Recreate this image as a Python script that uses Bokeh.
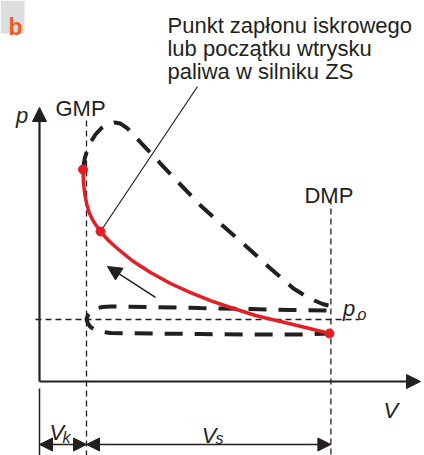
from bokeh.plotting import figure
from bokeh.models import Range1d, Arrow, NormalHead, Label, BoxAnnotation
from bokeh.embed import file_html
from bokeh.resources import INLINE

# Indicator diagram of a piston engine, schematic units
V_k = 1.0      # clearance volume (GMP)
V_s = 5.2      # swept volume (GMP -> DMP)
p_o = 1.0      # ambient pressure

# compression stroke (red)
comp_V = [0.926, 0.936, 0.968, 1.011, 1.064, 1.149, 1.298, 1.468, 1.681, 2.000,
          2.362, 2.787, 3.213, 3.638, 4.064, 4.596, 5.128, 5.660, 6.170]
comp_p = [3.419, 3.194, 3.000, 2.839, 2.710, 2.581, 2.419, 2.274, 2.129, 1.935,
          1.758, 1.581, 1.435, 1.306, 1.194, 1.065, 0.968, 0.871, 0.774]

# combustion and expansion stroke
exp_V = [0.926, 0.957, 1.011, 1.085, 1.191, 1.319, 1.468, 1.596, 1.723, 1.872,
         2.043, 2.255, 2.574, 2.936, 3.426, 3.894, 4.426, 4.915, 5.404, 5.660,
         5.851, 6.021, 6.149]
exp_p = [3.419, 3.581, 3.726, 3.855, 3.984, 4.089, 4.153, 4.177, 4.161, 4.081,
         3.944, 3.774, 3.516, 3.226, 2.839, 2.516, 2.161, 1.823, 1.500, 1.379,
         1.306, 1.250, 1.226]

# exhaust and intake strokes (gas exchange loop)
gas_V = [6.106, 5.340, 4.489, 3.426, 2.362, 1.511, 1.340, 1.191, 1.085, 1.032,
         1.000, 1.032, 1.085, 1.191, 1.340, 1.511, 2.362, 3.426, 4.489, 5.553, 6.170]
gas_p = [1.145, 1.153, 1.169, 1.185, 1.202, 1.210, 1.202, 1.177, 1.129, 1.073,
         1.000, 0.935, 0.879, 0.831, 0.798, 0.782, 0.774, 0.766, 0.758, 0.758, 0.774]

# marked points: start of compression line, ignition / injection, BDC
mark_V = [0.926, 1.298, 6.170]
mark_p = [3.419, 2.419, 0.774]

INK = "#231F20"
RED = "#E31E24"
FONT = "Liberation Sans"

p = figure(width=424, height=455, output_backend="svg", toolbar_location=None,
           x_range=Range1d(-0.8298, 8.1915), y_range=Range1d(-1.1935, 6.1452),
           x_axis_type=None, y_axis_type=None, min_border=0,
           background_fill_color="white", border_fill_color="white")
p.min_border_left = p.min_border_right = p.min_border_top = p.min_border_bottom = 0
p.grid.visible = False
p.outline_line_color = None

# panel tag
p.add_layout(BoxAnnotation(left=-0.8298, right=-0.319, top=6.1452, bottom=5.613,
                           fill_color="#DCDDDE", fill_alpha=1.0, line_color=None))

# guide lines: GMP, DMP, ambient pressure
guide = dict(line_color=INK, line_width=1.3, line_dash="6 4")
p.segment(x0=[V_k], y0=[4.21], x1=[V_k], y1=[-1.2], **guide)
p.segment(x0=[V_k + V_s], y0=[2.95], x1=[V_k + V_s], y1=[-1.2], **guide)
p.segment(x0=[-0.085], y0=[p_o], x1=[6.81], y1=[p_o], **guide)

# axes
p.add_layout(Arrow(end=NormalHead(size=14, fill_color=INK, line_color=INK, line_width=1),
                   x_start=0, y_start=0, x_end=0, y_end=4.42, line_color=INK, line_width=2.2))
p.add_layout(Arrow(end=NormalHead(size=14, fill_color=INK, line_color=INK, line_width=1),
                   x_start=0, y_start=0, x_end=8.106, y_end=0, line_color=INK, line_width=2.2))

# cycle curves
p.line(exp_V, exp_p, line_color=INK, line_width=4, line_dash="18 12")
p.line(gas_V, gas_p, line_color=INK, line_width=4, line_dash="18 12")
p.line(comp_V, comp_p, line_color=RED, line_width=3.5)

# leader to the ignition point
p.segment(x0=[mark_V[1]], y0=[mark_p[1]], x1=[3.362], y1=[4.758],
          line_color=INK, line_width=1.2)
p.scatter(mark_V, mark_p, size=9, color=RED)

# direction of the compression stroke
p.add_layout(Arrow(end=NormalHead(size=14, fill_color=INK, line_color=INK, line_width=1),
                   x_start=2.468, y_start=1.355, x_end=1.447, y_end=1.855,
                   line_color=INK, line_width=1.5))

# dimension lines V_k and V_s
y_dim = -1.016
p.segment(x0=[0], y0=[-0.113], x1=[0], y1=[-1.2], line_color=INK, line_width=1.5)
for a, b in [(0, V_k), (V_k, V_k + V_s)]:
    p.add_layout(Arrow(start=NormalHead(size=13, fill_color=INK, line_color=INK, line_width=1),
                       end=NormalHead(size=13, fill_color=INK, line_color=INK, line_width=1),
                       x_start=a, y_start=y_dim, x_end=b, y_end=y_dim,
                       line_color=INK, line_width=1.3))


def label(x, y, text, size=22, style="normal", color=INK):
    p.add_layout(Label(x=x, y=y, text=text, text_font=FONT,
                       text_font_size=f"{size}px", text_font_style=style,
                       text_color=color, text_baseline="alphabetic", text_align="left"))


label(-0.66, 5.71, "b", size=23, style="bold", color="#F15A22")
label(2.723, 5.742, "Punkt zapłonu iskrowego")
label(2.723, 5.371, "lub początku wtrysku")
label(2.723, 5.000, "paliwa w silniku ZS")
label(0.340, 4.403, "GMP")
label(5.638, 3.000, "DMP")
label(-0.50, 4.29, "p", size=22, style="italic")
label(7.320, -0.468, "V", size=22, style="italic")
label(6.455, 1.177, "p", size=22, style="italic")
label(6.766, 1.081, "o", size=16, style="italic")
label(0.215, -0.823, "V", size=22, style="italic")
label(0.489, -0.903, "k", size=16, style="italic")
label(3.450, -0.871, "V", size=22, style="italic")
label(3.745, -0.919, "s", size=16, style="italic")

open("out.html", "w").write(file_html(p, INLINE))
